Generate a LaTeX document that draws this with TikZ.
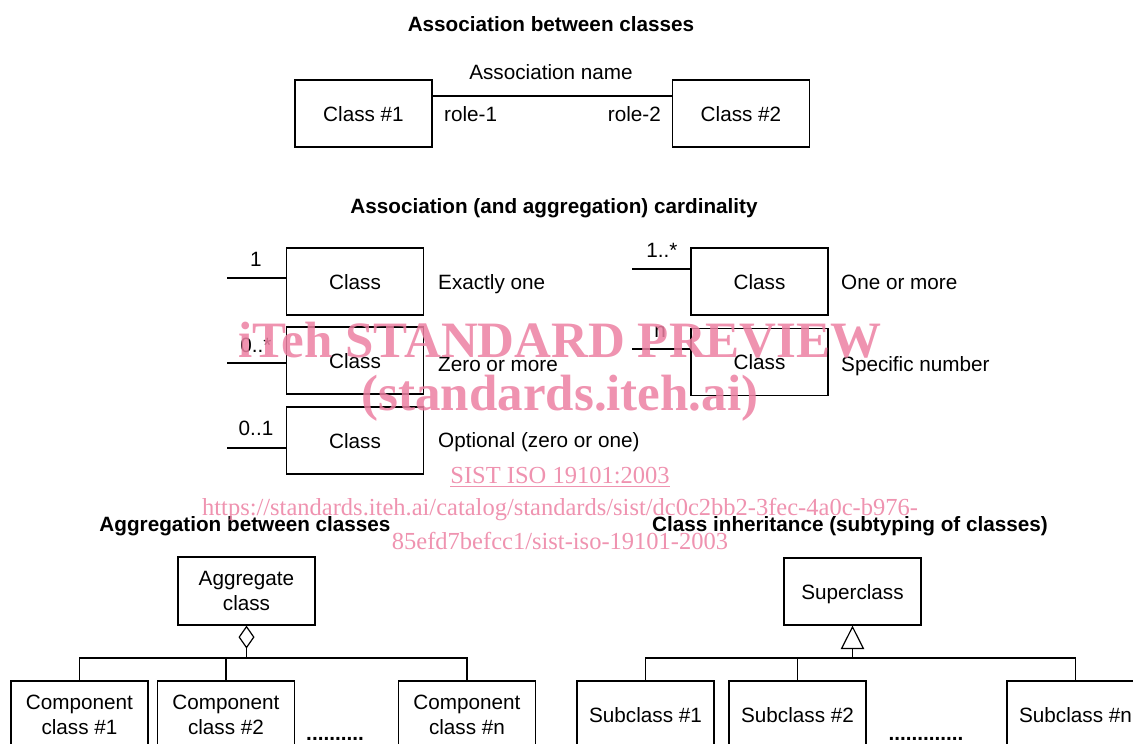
\documentclass[tikz,border=0pt]{standalone}
\usepackage{fontspec}
\setmainfont{Liberation Sans}
\newfontfamily\wmfont{Liberation Serif}
\usetikzlibrary{arrows.meta}
\definecolor{wm}{RGB}{236,128,162}
\begin{document}
\begin{tikzpicture}[x=1pt,y=-1pt,
  every node/.style={font=\fontsize{20.7}{25}\selectfont, inner sep=0pt, text height=15pt, text depth=0pt},
  cls/.style={draw, line width=1.2pt, minimum width=137pt, minimum height=67pt, align=center},
  ml/.style={text height={}, text depth={}},
  conn/.style={line width=1.2pt},
  ttl/.style={font=\fontsize{20.7}{25}\selectfont\bfseries},
  lbl/.style={anchor=west},
  dots/.style={font=\fontsize{20.7}{25}\selectfont\bfseries},
  wmk/.style={text height={}, text depth={}, text=wm, opacity=0.85, font=\wmfont\fontsize{51}{55}\selectfont\bfseries},
  wmk2/.style={text height={}, text depth={}, text=wm, opacity=0.85, font=\wmfont\fontsize{24.5}{28}\selectfont}]
\useasboundingbox (0,0) rectangle (1133,744);

% --- Association between classes
\node[ttl] (t1) at (551,24) {Association between classes};
\node[cls] (c1) at (363.5,113.5) {Class \#1};
\node[cls] (c2) at (741,113.5) {Class \#2};
\draw[conn] ([yshift=17.5pt]c1.east) -- ([yshift=17.5pt]c2.west);
\node (an) at (551,72) {Association name};
\node[anchor=west] (r1) at (444,114) {role-1};
\node[anchor=east] (r2) at (661,114) {role-2};

% --- Cardinality
\node[ttl] (t2) at (554,206) {Association (and aggregation) cardinality};
\node[cls] (k1) at (355,281.5) {Class};
\node[cls] (k2) at (355,360.5) {Class};
\node[cls] (k3) at (355,440.5) {Class};
\node[cls] (k4) at (759.5,281.5) {Class};
\node[cls] (k5) at (759.5,362) {Class};
\coordinate (e1) at (227,278);
\coordinate (e2) at (227,363);
\coordinate (e3) at (227,448);
\coordinate (e4) at (632,269);
\coordinate (e5) at (632,349);
\draw[conn] (e1) -- (k1.west |- e1);
\draw[conn] (e2) -- (k2.west |- e2);
\draw[conn] (e3) -- (k3.west |- e3);
\draw[conn] (e4) -- (k4.west |- e4);
\draw[conn] (e5) -- (k5.west |- e5);
\node (m1) at (256,259) {1};
\node (m2) at (256,345) {0..*};
\node (m3) at (256,428) {0..1};
\node (m4) at (662,250) {1..*};
\node (m5) at (660,330) {n};
\node[lbl] (d1) at (438,282) {Exactly one};
\node[lbl] (d2) at (438,364) {Zero or more};
\node[lbl] (d3) at (438,440) {Optional (zero or one)};
\node[lbl] (d4) at (841,282) {One or more};
\node[lbl] (d5) at (841,364) {Specific number};

% --- Aggregation
\node[ttl] (t3) at (245,524) {Aggregation between classes};
\node[cls, ml, minimum height=68pt] (agg) at (246.5,591) {Aggregate\\class};
\node[cls, ml] (p1) at (79.5,714.5) {Component\\class \#1};
\node[cls, ml] (p2) at (226,714.5) {Component\\class \#2};
\node[cls, ml] (p3) at (467,714.5) {Component\\class \#n};
\coordinate (ab) at (246.5,658);
\draw[conn] (p1.north) -- (p1.north |- ab) -- (p3.north |- ab) -- (p3.north);
\draw[conn] (p2.north) -- (p2.north |- ab);
\draw[conn,-{Diamond[open,length=23pt,width=16pt]}] (ab) -- (agg.south);
\node[dots] (dd1) at (335,733) {..........};

% --- Inheritance
\node[ttl] (t4) at (850,524) {Class inheritance (subtyping of classes)};
\node[cls] (sup) at (852.5,591.5) {Superclass};
\node[cls] (s1) at (645.5,714.5) {Subclass \#1};
\node[cls] (s2) at (797.5,714.5) {Subclass \#2};
\node[cls] (s3) at (1075.5,714.5) {Subclass \#n};
\coordinate (ib) at (852.5,658);
\draw[conn] (s1.north) -- (s1.north |- ib) -- (s3.north |- ib) -- (s3.north);
\draw[conn] (s2.north) -- (s2.north |- ib);
\draw[conn,-{Triangle[open,length=23.5pt,width=23.5pt]}] (ib) -- (sup.south);
\node[dots] (dd2) at (926,733) {.............};

% --- Watermark
\node[wmk] (w1) at (560,340) {iTeh STANDARD PREVIEW};
\node[wmk] (w2) at (560,398) {(standards.iteh.ai)};
\node[wmk2] (w3) at (560,477) {\underline{SIST ISO 19101:2003}};
\node[wmk2] (w4) at (560,510) {https://standards.iteh.ai/catalog/standards/sist/dc0c2bb2-3fec-4a0c-b976-};
\node[wmk2] (w5) at (560,541) {85efd7befcc1/sist-iso-19101-2003};
\end{tikzpicture}
\end{document}
